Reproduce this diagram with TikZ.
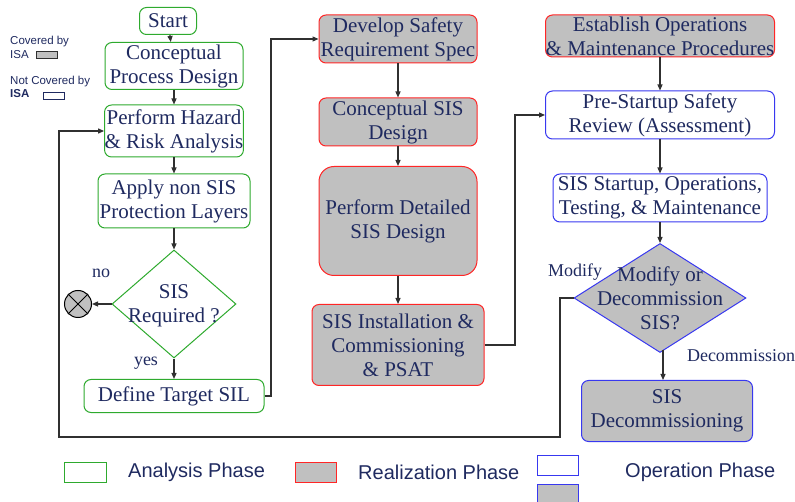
\documentclass[tikz,border=0pt]{standalone}
\usepackage{fontspec}
\setmainfont{Liberation Serif}
\setsansfont{Liberation Sans}
\usetikzlibrary{arrows.meta,shapes.geometric}
\definecolor{txt}{HTML}{1F2A60}
\definecolor{agreen}{HTML}{2EAA2E}
\definecolor{rred}{HTML}{FF2626}
\definecolor{oblue}{HTML}{3838F0}
\definecolor{isagray}{HTML}{C0C0C0}
\definecolor{wire}{HTML}{303030}
\tikzset{
  base/.style={rounded corners=7pt, line width=1pt, align=center, text=txt,
    font=\fontsize{21}{24}\selectfont, inner sep=0pt},
  analysis/.style={base, draw=agreen, fill=white},
  realize/.style={base, draw=rred, fill=isagray},
  operate/.style={base, draw=oblue, fill=white},
  operategray/.style={base, draw=oblue, fill=isagray},
  decision/.style={diamond, draw, line width=1pt, inner sep=0pt},
  dtext/.style={align=center, text=txt, font=\fontsize{21}{24}\selectfont, inner sep=0pt},
  flow/.style={draw=wire, line width=1.2pt, -{Triangle[length=6pt,width=5pt]}},
  lbl/.style={text=txt, font=\fontsize{18}{20}\selectfont, inner sep=0pt},
  legtxt/.style={text=txt, font=\sffamily\fontsize{20}{24}\selectfont, inner sep=0pt, anchor=west},
  smalltxt/.style={text=txt, font=\sffamily\fontsize{11.5}{13}\selectfont, inner sep=0pt, anchor=west},
}
\begin{document}
\begin{tikzpicture}[x=1pt,y=-1pt]
\useasboundingbox (0,0) rectangle (795,502);

% ---- analysis phase column
\node[analysis, minimum width=57, minimum height=27] (start) at (168,21) {Start};
\node[analysis, minimum width=138, minimum height=47] (cpd) at (174,66) {Conceptual\\Process Design};
\node[analysis, minimum width=138, minimum height=52] (hra) at (174,131) {Perform Hazard\\\& Risk Analysis};
\node[analysis, minimum width=152, minimum height=54] (npl) at (174,201) {Apply non SIS\\Protection Layers};
\node[decision, draw=agreen, fill=white, minimum width=124, minimum height=108] (req) at (174,304) {};
\node[dtext] (reqtext) at (174,306) {SIS\\Required ?};
\node[circle, draw=black, fill=isagray, line width=1pt, minimum size=27, inner sep=0pt] (stop) at (78,304) {};
\draw[line width=1pt] (stop.north west) -- (stop.south east) (stop.north east) -- (stop.south west);
\node[analysis, minimum width=180, minimum height=33] (sil) at (174,396) {Define Target SIL};
\node[lbl] (nolbl) at (101,273) {no};
\node[lbl] (yeslbl) at (146,363) {yes};

% ---- realization phase column
\node[realize, minimum width=158, minimum height=48] (srs) at (398,39) {Develop Safety\\Requirement Spec};
\node[realize, minimum width=158, minimum height=48] (csd) at (398,122) {Conceptual SIS\\Design};
\node[realize, rounded corners=15pt, minimum width=158, minimum height=109] (dsd) at (398,221) {Perform Detailed\\SIS Design};
\node[realize, minimum width=172, minimum height=81] (inst) at (398,345) {SIS Installation \&\\Commissioning\\\& PSAT};

% ---- operation phase column
\node[realize, minimum width=229, minimum height=42] (omp) at (660,36) {Establish Operations\\\& Maintenance Procedures};
\node[operate, minimum width=229, minimum height=48] (pssr) at (660,115) {Pre-Startup Safety\\Review (Assessment)};
\node[operate, minimum width=214, minimum height=48] (ops) at (660,198) {SIS Startup, Operations,\\Testing, \& Maintenance};
\node[decision, draw=oblue, fill=isagray, minimum width=172, minimum height=109] (mod) at (660,298) {};
\node[dtext] (modtext) at (660,298) {Modify or\\Decommission\\SIS?};
\node[operategray, minimum width=171, minimum height=61] (dec) at (667,411) {SIS\\Decommissioning};
\node[lbl] (modlbl) at (575,272) {Modify};
\node[lbl] (declbl) at (741,356) {Decommission};

% ---- connectors
\draw[flow] (start) -- (cpd);
\draw[flow] (cpd) -- (hra);
\draw[flow] (hra) -- (npl);
\draw[flow] (npl) -- (req);
\draw[flow] (req) -- (sil);
\draw[flow] (req) -- (stop);
\draw[flow] (sil.east) -| (271,120) |- (srs.west);
\draw[flow] (srs) -- (csd);
\draw[flow] (csd) -- (dsd);
\draw[flow] (dsd) -- (inst);
\draw[flow] (inst.east) -| (515,200) |- (pssr.west);
\draw[flow] (omp) -- (pssr);
\draw[flow] (pssr) -- (ops);
\draw[flow] (ops) -- (mod);
\draw[flow] (mod.south) ++(3,-3) -- (dec.north -| 663,0);
\coordinate (loopA) at (560,437);
\coordinate (loopB) at (59,437);
\draw[flow] (mod.west) -| (loopA) -- (loopB) |- (hra.west);

% ---- coverage key (top left)
\node[smalltxt] (cov1) at (10,42) {Covered by};
\node[smalltxt] (cov2) at (10,55) {ISA};
\node[draw=wire, fill=isagray, line width=0.8pt, minimum width=21, minimum height=7, inner sep=0pt] (covbox) at (46.5,54.5) {};
\node[smalltxt] (ncov1) at (10,82) {Not Covered by};
\node[smalltxt, font=\sffamily\bfseries\fontsize{11.5}{13}\selectfont] (ncov2) at (10,94) {ISA};
\node[draw=txt, fill=white, line width=0.8pt, minimum width=21, minimum height=7, inner sep=0pt] (ncovbox) at (53.5,95.5) {};

% ---- phase key (bottom)
\node[draw=agreen, fill=white, line width=1pt, minimum width=42, minimum height=20, inner sep=0pt] (kA) at (85,472) {};
\node[legtxt] (kAt) at (128,472) {Analysis Phase};
\node[draw=rred, fill=isagray, line width=1pt, minimum width=41, minimum height=20, inner sep=0pt] (kR) at (315.5,472) {};
\node[legtxt] (kRt) at (358,472) {Realization Phase};
\node[draw=oblue, fill=white, line width=1pt, minimum width=41, minimum height=20, inner sep=0pt] (kO1) at (557.5,465.5) {};
\node[draw=oblue, fill=isagray, line width=1pt, minimum width=41, minimum height=20, inner sep=0pt] (kO2) at (557.5,494) {};
\node[legtxt] (kOt) at (625,472) {Operation Phase};
\end{tikzpicture}
\end{document}
